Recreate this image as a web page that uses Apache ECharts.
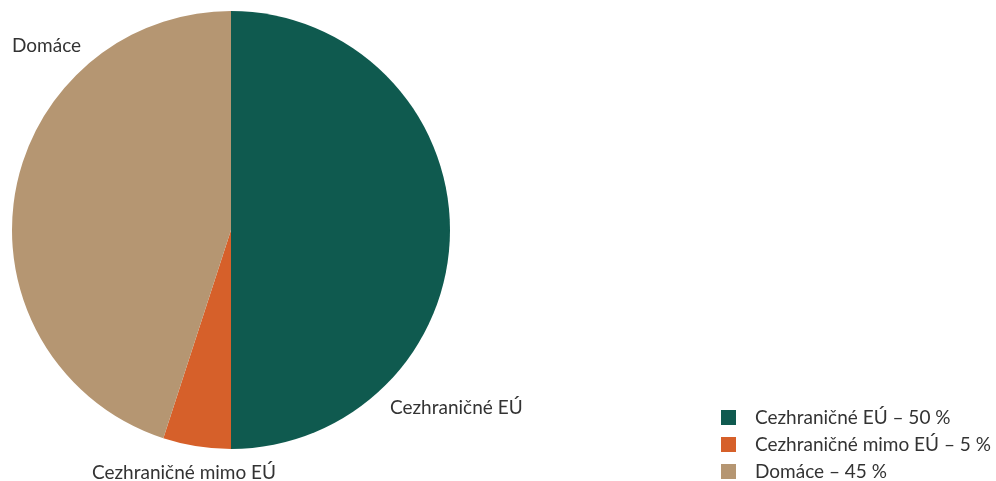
<!DOCTYPE html>
<html>
<head>
<meta charset="utf-8">
<script src="https://cdn.jsdelivr.net/npm/echarts@6/dist/echarts.min.js"></script>
<style>
html,body{margin:0;padding:0;background:#fff;}
#chart{width:996px;height:481px;}
</style>
</head>
<body>
<div id="chart"></div>
<script>
var categories = ['Cezhraničné EÚ', 'Cezhraničné mimo EÚ', 'Domáce'];
var values = [50, 5, 45];
var colors = ['#0f5a4f', '#d6602a', '#b59672'];
var labelPos = [[390, 408], [92, 473], [12, 46]];

var chart = echarts.init(document.getElementById('chart'));
var data = categories.map(function (c, i) {
  return { name: c, value: values[i], itemStyle: { color: colors[i] } };
});
chart.setOption({
  animation: false,
  textStyle: { fontFamily: 'Lato' },
  legend: {
    orient: 'vertical',
    left: 721,
    top: 408,
    padding: 0,
    itemWidth: 15,
    itemHeight: 15,
    itemGap: 8,
    icon: 'rect',
    textStyle: { fontFamily: 'Lato', fontSize: 19, color: '#333', lineHeight: 18, padding: [0, 0, 0, 14] },
    formatter: function (name) {
      var i = categories.indexOf(name);
      return name + ' – ' + values[i] + ' %';
    },
    data: categories
  },
  series: [{
    type: 'pie',
    center: [231, 230],
    radius: [0, 219],
    startAngle: 90,
    clockwise: true,
    avoidLabelOverlap: false,
    label: { show: true, position: 'inside', overflow: 'none', fontFamily: 'Lato', fontSize: 19, color: '#333', formatter: '{b}' },
    labelLine: { show: false },
    labelLayout: function (params) {
      var p = labelPos[params.dataIndex];
      return { x: p[0], y: p[1], align: 'left', verticalAlign: 'middle' };
    },
    emphasis: { disabled: true },
    data: data
  }]
});
</script>
</body>
</html>
